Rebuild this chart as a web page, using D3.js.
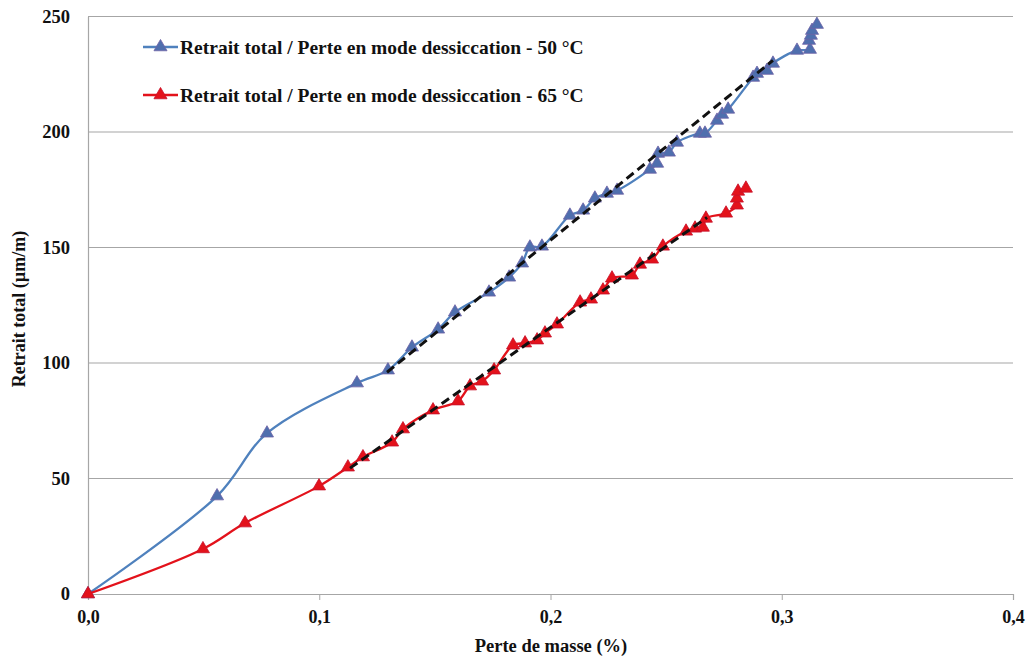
<!DOCTYPE html>
<html>
<head>
<meta charset="utf-8">
<script src="https://cdn.jsdelivr.net/npm/d3@7"></script>
<style>
  body { margin: 0; background: #fff; }
</style>
</head>
<body>
<div id="chart"></div>
<script>
// Series: mass loss (%) vs total shrinkage (µm/m)
const x50 = [0, 0.0558, 0.0774, 0.1163, 0.1297, 0.1401, 0.1514, 0.1587, 0.1734, 0.1821,
  0.1877, 0.1911, 0.1963, 0.2084, 0.2141, 0.2192, 0.2244, 0.2288, 0.2430, 0.2461,
  0.2465, 0.2512, 0.2547, 0.2646, 0.2668, 0.2720, 0.2742, 0.2768, 0.2876, 0.2893,
  0.2936, 0.2962, 0.3066, 0.3122, 0.3118, 0.3126, 0.3131, 0.3152];
const y50 = [0, 42.4, 69.6, 91.3, 96.9, 106.8, 114.6, 122.0, 130.6, 137.1,
  143.2, 150.1, 150.5, 163.9, 166.1, 171.3, 173.4, 174.7, 183.8, 186.4,
  190.7, 191.2, 195.5, 199.4, 199.4, 205.0, 207.6, 209.8, 223.6, 225.3,
  226.6, 229.7, 235.3, 235.7, 239.6, 241.8, 243.9, 246.5];

const x65 = [0, 0.0497, 0.0679, 0.0999, 0.1124, 0.1189, 0.1315, 0.1362, 0.1492, 0.1600,
  0.1652, 0.1704, 0.1756, 0.1838, 0.1890, 0.1942, 0.1976, 0.2028, 0.2128, 0.2175,
  0.2227, 0.2266, 0.2352, 0.2387, 0.2439, 0.2486, 0.2586, 0.2625, 0.2659, 0.2672,
  0.2759, 0.2806, 0.2806, 0.2811, 0.2845];
const y65 = [0, 19.5, 30.7, 46.7, 54.9, 59.3, 65.7, 71.4, 79.6, 83.5,
  90.0, 92.1, 96.9, 107.7, 108.6, 109.9, 112.9, 116.8, 126.3, 127.6,
  131.5, 136.7, 138.0, 142.7, 144.9, 150.5, 157.0, 158.3, 158.7, 162.6,
  164.8, 168.3, 171.3, 174.3, 175.6];

// linear trend segments (dashed)
const trend50X = [0.1293, 0.2962];
const trend50Y = [96, 231];
const trend65X = [0.1133, 0.2677];
const trend65Y = [54.5, 163];

const xTicks = [0, 0.1, 0.2, 0.3, 0.4];
const yTicks = [0, 50, 100, 150, 200, 250];
const seriesNames = [
  "Retrait total / Perte en mode dessiccation - 50 °C",
  "Retrait total / Perte en mode dessiccation - 65 °C"
];

const FONT = "'Liberation Serif', 'Times New Roman', serif";
const width = 1028, height = 657;
const margin = { top: 16.5, right: 15, bottom: 63, left: 88 };
const w = width - margin.left - margin.right;
const h = height - margin.top - margin.bottom;

const svg = d3.select("#chart").append("svg")
  .attr("width", width)
  .attr("height", height)
  .attr("font-family", FONT);

const g = svg.append("g")
  .attr("transform", `translate(${margin.left},${margin.top})`);

const x = d3.scaleLinear().domain([0, 0.4]).range([0, w]);
const y = d3.scaleLinear().domain([0, 250]).range([h, 0]);

// horizontal grid
g.selectAll("line.grid")
  .data(yTicks.filter(d => d > 0))
  .join("line")
  .attr("class", "grid")
  .attr("x1", 0).attr("x2", w)
  .attr("y1", d => y(d)).attr("y2", d => y(d))
  .attr("stroke", "#a6a6a6")
  .attr("stroke-width", 1.2);

// y axis
const yAxis = g.append("g")
  .call(d3.axisLeft(y).tickValues(yTicks).tickSize(0).tickPadding(18).tickFormat(d3.format("d")));
yAxis.attr("font-family", FONT);
yAxis.select(".domain").attr("stroke", "#a6a6a6").attr("stroke-width", 1.2);
yAxis.selectAll("text")
  .attr("font-size", 18.5).attr("font-weight", "bold").attr("fill", "#111");

// x axis
const xAxis = g.append("g")
  .attr("transform", `translate(0,${h})`)
  .call(d3.axisBottom(x).tickValues(xTicks).tickSize(6).tickPadding(10)
    .tickFormat(d => d3.format(".1f")(d).replace(".", ",")));
xAxis.attr("font-family", FONT);
xAxis.select(".domain").attr("stroke", "#a6a6a6").attr("stroke-width", 1.2);
xAxis.selectAll(".tick line").attr("stroke", "#a6a6a6");
xAxis.selectAll("text")
  .attr("font-size", 18).attr("font-weight", "bold").attr("fill", "#111");

// axis titles
svg.append("text")
  .attr("x", 551)
  .attr("y", 652)
  .attr("text-anchor", "middle")
  .attr("font-size", 18.5).attr("font-weight", "bold").attr("fill", "#111")
  .text("Perte de masse (%)");

svg.append("text")
  .attr("transform", `translate(25,309) rotate(-90)`)
  .attr("text-anchor", "middle")
  .attr("font-size", 18).attr("font-weight", "bold").attr("fill", "#111")
  .text("Retrait total (µm/m)");

const series = [
  { xs: x50, ys: y50, line: "#4f81bd", fill: "#4f6fae", edge: "#6e62a6" },
  { xs: x65, ys: y65, line: "#e3121b", fill: "#e3121b", edge: "#c8102a" }
];

const lineGen = d3.line()
  .x(d => x(d[0]))
  .y(d => y(d[1]))
  .curve(d3.curveCatmullRom.alpha(0.5));

const tri = d3.symbol().type(d3.symbolTriangle).size(74);

series.forEach(s => {
  const pts = s.xs.map((v, i) => [v, s.ys[i]]);
  g.append("path")
    .datum(pts)
    .attr("fill", "none")
    .attr("stroke", s.line)
    .attr("stroke-width", 2.3)
    .attr("d", lineGen);
  g.append("g")
    .selectAll("path")
    .data(pts)
    .join("path")
    .attr("d", tri)
    .attr("transform", d => `translate(${x(d[0])},${y(d[1])})`)
    .attr("fill", s.fill)
    .attr("stroke", s.edge)
    .attr("stroke-width", 0.8);
});

// dashed trend lines
[[trend50X, trend50Y], [trend65X, trend65Y]].forEach(([tx, ty]) => {
  g.append("line")
    .attr("x1", x(tx[0])).attr("y1", y(ty[0]))
    .attr("x2", x(tx[1])).attr("y2", y(ty[1]))
    .attr("stroke", "#111")
    .attr("stroke-width", 3)
    .attr("stroke-dasharray", "9,5");
});

// legend
const legend = svg.append("g").attr("transform", "translate(143,47)");
series.forEach((s, i) => {
  const row = legend.append("g").attr("transform", `translate(0,${i * 48})`);
  row.append("line")
    .attr("x1", 0).attr("x2", 35).attr("y1", 0).attr("y2", 0)
    .attr("stroke", s.line).attr("stroke-width", 2.3);
  row.append("path")
    .attr("d", tri)
    .attr("transform", "translate(17.5,0)")
    .attr("fill", s.fill)
    .attr("stroke", s.edge)
    .attr("stroke-width", 0.8);
  row.append("text")
    .attr("x", 37).attr("y", 6.5)
    .attr("font-size", 19.5).attr("font-weight", "bold").attr("fill", "#111")
    .text(seriesNames[i]);
});
</script>
</body>
</html>
